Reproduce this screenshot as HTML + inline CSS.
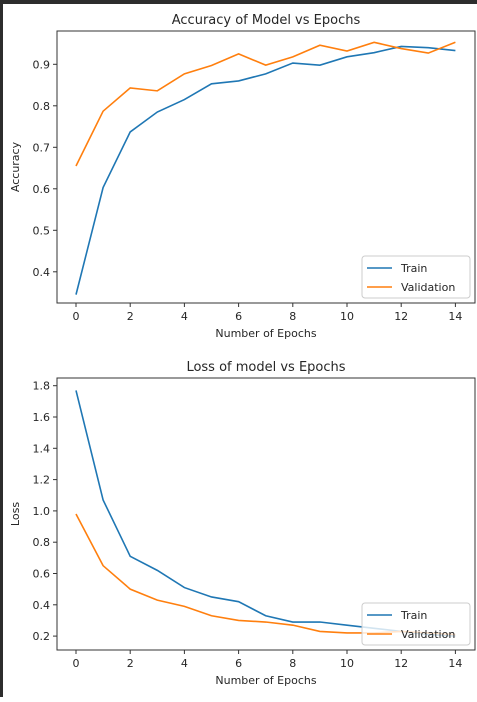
<!DOCTYPE html>
<html><head><meta charset="utf-8"><style>
body{margin:0;background:#fff;width:477px;height:697px;overflow:hidden;font-family:"Liberation Sans","DejaVu Sans",sans-serif}
svg text{font-family:"DejaVu Sans","Liberation Sans",sans-serif;fill:#262626}
</style></head><body>
<svg id="c" width="477" height="697" xmlns="http://www.w3.org/2000/svg">
<rect x="0" y="0" width="477" height="4" fill="#2d2d2d"/>
<rect x="0" y="0" width="3" height="697" fill="#2d2d2d"/>
</svg>
<script>
const epochs=[0,1,2,3,4,5,6,7,8,9,10,11,12,13,14];
const accTrain=[0.345,0.603,0.737,0.785,0.815,0.853,0.86,0.877,0.903,0.898,0.918,0.928,0.943,0.94,0.933];
const accVal=[0.655,0.787,0.843,0.836,0.877,0.897,0.925,0.898,0.918,0.946,0.932,0.953,0.938,0.927,0.953];
const lossTrain=[1.77,1.07,0.71,0.62,0.51,0.45,0.42,0.33,0.29,0.29,0.27,0.25,0.23,0.21,0.2];
const lossVal=[0.98,0.65,0.50,0.43,0.39,0.33,0.30,0.29,0.27,0.23,0.22,0.22,0.23,0.22,0.21];
const xTicks=[0,2,4,6,8,10,12,14];
const accTicks=[0.4,0.5,0.6,0.7,0.8,0.9];
const lossTicks=[0.2,0.4,0.6,0.8,1.0,1.2,1.4,1.6,1.8];
const svg=document.getElementById('c');const NS='http://www.w3.org/2000/svg';
function mk(t,a,p){const e=document.createElementNS(NS,t);for(const k in a)e.setAttribute(k,a[k]);(p||svg).appendChild(e);return e;}
const xs=v=>76+v*27.1;
function chart(cfg){
  const g=mk('g',{});
  
  
  const ys=v=>cfg.y0+(v-cfg.v0)*cfg.k;
  const L=57,R=475,T=cfg.top,B=cfg.bot;
  const pl=(arr,col,nm)=>{const p=mk('polyline',{points:arr.map((v,i)=>xs(epochs[i])+','+ys(v)).join(' '),fill:'none',stroke:col,'stroke-width':1.6},g);
    
    };
  pl(cfg.tr,'#1f77b4',cfg.name+'-train-line');
  pl(cfg.va,'#ff7f0e',cfg.name+'-validation-line');
  const f=mk('rect',{x:L,y:T,width:R-L,height:B-T,fill:'none',stroke:'#333','stroke-width':1},g);
  
  
  xTicks.forEach(t=>{mk('line',{x1:xs(t),x2:xs(t),y1:B,y2:B+4,stroke:'#333'},g);
    const tx=mk('text',{x:xs(t),y:B+17,'font-size':11,'text-anchor':'middle'},g);tx.textContent=t;
    
    });
  cfg.ticks.forEach(t=>{mk('line',{x1:L-4,x2:L,y1:ys(t),y2:ys(t),stroke:'#333'},g);
    const tx=mk('text',{x:L-7,y:ys(t)+4,'font-size':11,'text-anchor':'end'},g);tx.textContent=t.toFixed(1);
    
    });
  const ti=mk('text',{x:266,y:T-7,'font-size':13,'text-anchor':'middle'},g);ti.textContent=cfg.title;
  
  
  const xl=mk('text',{x:266,y:B+34,'font-size':11,'text-anchor':'middle'},g);xl.textContent='Number of Epochs';
  
  
  const cy=(T+B)/2;
  const yl=mk('text',{x:19,y:cy,'font-size':11,'text-anchor':'middle',transform:'rotate(-90 19 '+cy+')'},g);yl.textContent=cfg.ylabel;
  
  
  const lg=mk('g',{},g);
  
  
  const ly=B-47;
  mk('rect',{x:362,y:ly,width:108,height:42,rx:3,fill:'rgba(255,255,255,0.8)',stroke:'#ccc'},lg);
  [['Train','#1f77b4'],['Validation','#ff7f0e']].forEach((e,i)=>{
    const yy=ly+12+i*19;
    mk('line',{x1:367,x2:392,y1:yy,y2:yy,stroke:e[1],'stroke-width':1.6},lg);
    const t=mk('text',{x:401,y:yy+4,'font-size':11},lg);t.textContent=e[0];
    
    });
}
chart({name:'accuracy-chart',tr:accTrain,va:accVal,ticks:accTicks,y0:64.3,v0:0.9,k:-415,top:31,bot:303,title:'Accuracy of Model vs Epochs',ylabel:'Accuracy'});
chart({name:'loss-chart',tr:lossTrain,va:lossVal,ticks:lossTicks,y0:385.7,v0:1.8,k:-156.5,top:378,bot:650,title:'Loss of model vs Epochs',ylabel:'Loss'});
</script>
</body></html>
